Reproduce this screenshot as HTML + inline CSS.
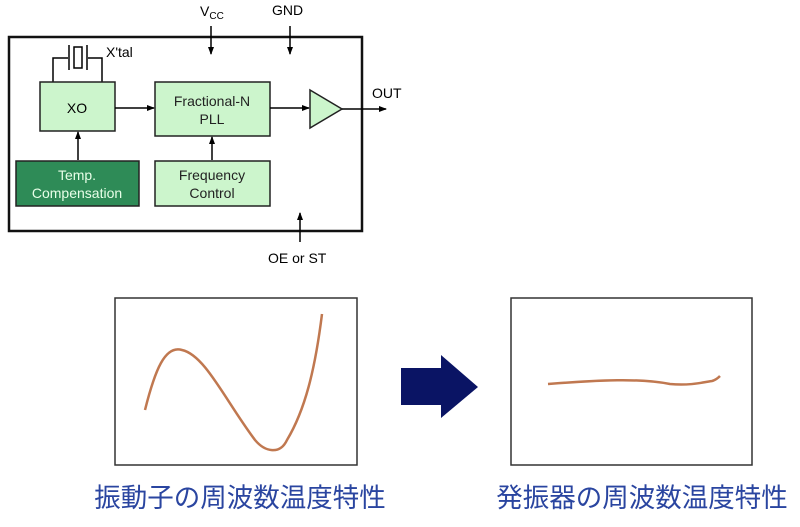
<!DOCTYPE html>
<html><head><meta charset="utf-8"><style>
body{margin:0;background:#fff;width:800px;height:522px;overflow:hidden}
svg text{font-family:"Liberation Sans","Noto Sans CJK JP",sans-serif}
</style></head><body>
<svg width="800" height="522" viewBox="0 0 800 522" xmlns="http://www.w3.org/2000/svg">
<defs><marker id="a" markerWidth="8" markerHeight="8" refX="7" refY="4" orient="auto" markerUnits="userSpaceOnUse"><path d="M0,1 L8,4 L0,7 Z" fill="#000"/></marker></defs>
<rect x="9" y="37" width="353" height="194" fill="none" stroke="#111" stroke-width="2.5"/>
<text x="200" y="16" font-size="14">V<tspan font-size="10" dy="3">CC</tspan></text>
<text x="272" y="15" font-size="14">GND</text>
<line x1="211" y1="26" x2="211" y2="54" stroke="#000" stroke-width="1.5" marker-end="url(#a)"/>
<line x1="290" y1="26" x2="290" y2="54" stroke="#000" stroke-width="1.5" marker-end="url(#a)"/>
<line x1="300" y1="242" x2="300" y2="213" stroke="#000" stroke-width="1.5" marker-end="url(#a)"/>
<text x="268" y="263" font-size="14">OE or ST</text>
<polyline points="53,82 53,58 68,58" fill="none" stroke="#000" stroke-width="1.5"/>
<polyline points="102,82 102,58 88,58" fill="none" stroke="#000" stroke-width="1.5"/>
<line x1="69" y1="45" x2="69" y2="70" stroke="#000" stroke-width="1.5"/>
<line x1="87" y1="45" x2="87" y2="70" stroke="#000" stroke-width="1.5"/>
<rect x="74" y="47" width="8" height="21" fill="none" stroke="#000" stroke-width="1.5"/>
<text x="106" y="57" font-size="14">X'tal</text>
<rect x="40" y="82" width="75" height="49" fill="#ccf5cc" stroke="#222" stroke-width="1.5"/>
<text x="77" y="113" font-size="14" text-anchor="middle">XO</text>
<rect x="155" y="82" width="115" height="54" fill="#ccf5cc" stroke="#222" stroke-width="1.5"/>
<text x="212" y="106" font-size="14" text-anchor="middle" fill="#222">Fractional-N</text>
<text x="212" y="124" font-size="14" text-anchor="middle" fill="#222">PLL</text>
<rect x="16" y="161" width="123" height="45" fill="#2e8b57" stroke="#222" stroke-width="1.5"/>
<text x="77" y="180" font-size="14" text-anchor="middle" fill="#e8ffe8">Temp.</text>
<text x="77" y="198" font-size="14" text-anchor="middle" fill="#e8ffe8">Compensation</text>
<rect x="155" y="161" width="115" height="45" fill="#ccf5cc" stroke="#222" stroke-width="1.5"/>
<text x="212" y="180" font-size="14" text-anchor="middle" fill="#222">Frequency</text>
<text x="212" y="198" font-size="14" text-anchor="middle" fill="#222">Control</text>
<line x1="115" y1="108" x2="154" y2="108" stroke="#000" stroke-width="1.5" marker-end="url(#a)"/>
<line x1="270" y1="108" x2="309" y2="108" stroke="#000" stroke-width="1.5" marker-end="url(#a)"/>
<line x1="78" y1="160" x2="78" y2="132" stroke="#000" stroke-width="1.5" marker-end="url(#a)"/>
<line x1="212" y1="160" x2="212" y2="137" stroke="#000" stroke-width="1.5" marker-end="url(#a)"/>
<polygon points="310,90 342,109 310,128" fill="#ccf5cc" stroke="#222" stroke-width="1.5"/>
<line x1="342" y1="109" x2="386" y2="109" stroke="#000" stroke-width="1.5" marker-end="url(#a)"/>
<text x="372" y="98" font-size="14">OUT</text>
<rect x="115" y="298" width="242" height="167" fill="none" stroke="#333" stroke-width="1.5"/>
<rect x="511" y="298" width="241" height="167" fill="none" stroke="#333" stroke-width="1.5"/>
<path d="M145,410 C155,370 165,345 182,350 C205,355 225,400 255,440 C265,452 280,455 287,440 C305,410 315,370 322,314" fill="none" stroke="#c07850" stroke-width="2.5"/>
<path d="M548,384 C600,380 640,378 670,384 C690,386 705,382 712,381 C716,380 718,378 720,376" fill="none" stroke="#c07850" stroke-width="2.5"/>
<polygon points="401,368 441,368 441,355 478,387 441,418 441,405 401,405" fill="#0a1464"/>
<text x="240" y="507" font-size="26.5" text-anchor="middle" fill="#2a45a0">振動子の周波数温度特性</text>
<text x="642" y="507" font-size="26.5" text-anchor="middle" fill="#2a45a0">発振器の周波数温度特性</text>
</svg>
</body></html>
